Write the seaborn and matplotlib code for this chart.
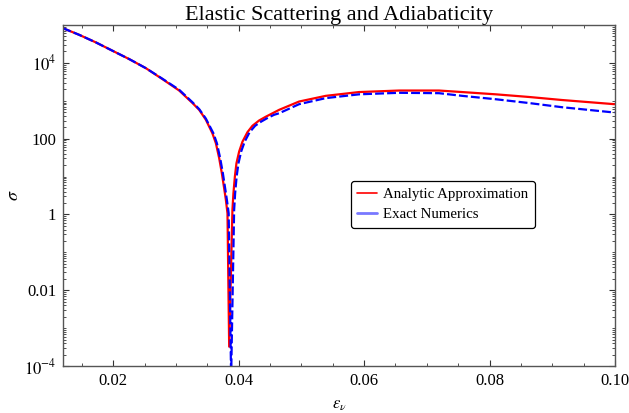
import numpy as np
import pandas as pd
import matplotlib
matplotlib.use("Agg")
import matplotlib.pyplot as plt
import matplotlib.ticker as mticker
from matplotlib.lines import Line2D
import seaborn as sns

# ---- data (log10 of sigma) ----
x_analytic = [0.01192, 0.01458, 0.01724, 0.01989, 0.02255, 0.02521, 0.02786, 0.03052,
              0.03264, 0.03371, 0.03477, 0.03582, 0.03637, 0.03689, 0.03732, 0.03769,
              0.03796, 0.03822, 0.03849, 0.03901, 0.03917, 0.0394, 0.03965, 0.04008,
              0.04061, 0.0414, 0.0422, 0.04327, 0.04434, 0.0454, 0.04645, 0.04964,
              0.0539, 0.0592, 0.06558, 0.07195, 0.07562, 0.081, 0.0863, 0.09155, 0.0999]
log_sigma_analytic = [4.92, 4.74, 4.54, 4.32, 4.10, 3.86, 3.57, 3.27,
                      2.94, 2.76, 2.50, 2.14, 1.88, 1.49, 1.09, 0.69,
                      0.39, 0.03, -3.49, 0.12, 0.56, 1.00, 1.35, 1.66,
                      1.92, 2.17, 2.34, 2.48, 2.58, 2.67, 2.76, 2.98,
                      3.13, 3.23, 3.27, 3.27, 3.23, 3.17, 3.10, 3.02, 2.91]

x_exact = [0.01192, 0.01458, 0.01724, 0.01989, 0.02255, 0.02521, 0.02786, 0.03052,
           0.03264, 0.03371, 0.03477, 0.03598, 0.03653, 0.03705, 0.03748, 0.03785,
           0.03812, 0.03841, 0.0388, 0.03928, 0.03944, 0.03968, 0.03997, 0.0404,
           0.04096, 0.04175, 0.04263, 0.04359, 0.04465, 0.04566, 0.04645, 0.04964,
           0.0539, 0.0592, 0.06558, 0.07195, 0.07562, 0.081, 0.0863, 0.09155, 0.0999]
log_sigma_exact = [4.92, 4.74, 4.54, 4.32, 4.10, 3.86, 3.58, 3.29,
                   2.96, 2.78, 2.53, 2.14, 1.88, 1.49, 1.09, 0.69,
                   0.39, 0.03, -4.3, 0.12, 0.56, 1.00, 1.35, 1.66,
                   1.92, 2.17, 2.34, 2.45, 2.55, 2.63, 2.67, 2.91,
                   3.07, 3.17, 3.21, 3.20, 3.13, 3.04, 2.94, 2.83, 2.69]

series_names = ["Analytic Approximation", "Exact Numerics"]
x_ticks = [0.02, 0.04, 0.06, 0.08, 0.10]
x_tick_labels = ["0.02", "0.04", "0.06", "0.08", "0.10"]
y_ticks = [1e-4, 1e-2, 1, 1e2, 1e4]
y_tick_labels = [r"$10^{-4}$", "0.01", "1", "100", r"$10^{4}$"]

df_a = pd.DataFrame({"x": x_analytic, "sigma": 10 ** np.array(log_sigma_analytic)})
df_e = pd.DataFrame({"x": x_exact, "sigma": 10 ** np.array(log_sigma_exact)})

sns.set_style("ticks")
plt.rcParams["font.family"] = ["Liberation Serif", "DejaVu Serif"]
plt.rcParams["mathtext.fontset"] = "stix"
plt.rcParams["text.color"] = "black"
plt.rcParams["axes.labelcolor"] = "black"

fig = plt.figure(figsize=(6.29, 4.13), dpi=100)
ax = fig.add_axes([0.1002, 0.1138, 0.8775, 0.8257])

sns.lineplot(data=df_a, x="x", y="sigma", ax=ax, color="#ff0000", lw=1.6,
             sort=False, estimator=None)
sns.lineplot(data=df_e, x="x", y="sigma", ax=ax, color="#0000ff", lw=1.6,
             sort=False, estimator=None, dashes=False, linestyle=(0, (4, 1.4)))

ax.set_yscale("log")
ax.set_xlim(0.012, 0.10)
ax.set_ylim(1e-4, 1e5)

ax.xaxis.set_major_locator(mticker.FixedLocator(x_ticks))
ax.xaxis.set_major_formatter(mticker.FixedFormatter(x_tick_labels))
ax.xaxis.set_minor_locator(mticker.MultipleLocator(0.005))
ax.yaxis.set_major_locator(mticker.FixedLocator(y_ticks))
ax.yaxis.set_major_formatter(mticker.FixedFormatter(y_tick_labels))
ax.yaxis.set_minor_locator(mticker.LogLocator(base=10, subs=np.arange(1, 10), numticks=40))
ax.yaxis.set_minor_formatter(mticker.NullFormatter())

ax.tick_params(which="both", direction="in", top=True, right=True, colors="#333333",
               labelcolor="black", labelsize=12)
ax.tick_params(which="major", length=4, width=0.8, pad=5)
ax.tick_params(which="minor", length=2, width=0.6)
for s in ax.spines.values():
    s.set_color("#555555")
    s.set_linewidth(1.0)

ax.set_xlabel(r"$\epsilon_{\nu}$", fontsize=12, labelpad=6, color="black")
ax.set_ylabel(r"$\sigma$", fontsize=13, color="black")
ax.yaxis.set_label_coords(-0.075, 0.5)
ax.set_title("Elastic Scattering and Adiabaticity", fontsize=16, pad=2, color="black")

handles = [Line2D([], [], color="#ff0000", lw=1.2),
           Line2D([], [], color="#7878ff", lw=2.0)]
leg = ax.legend(handles, series_names, loc="upper left", bbox_to_anchor=(0.521, 0.5425),
                borderaxespad=0, fontsize=10.7, frameon=True, fancybox=True,
                handlelength=1.3, handletextpad=0.45, borderpad=0.45, labelspacing=0.45)
leg.get_frame().set_edgecolor("black")
leg.get_frame().set_linewidth(0.9)
leg.get_frame().set_alpha(1)
for t in leg.get_texts():
    t.set_color("black")

fig.savefig("out.png", dpi=100)
